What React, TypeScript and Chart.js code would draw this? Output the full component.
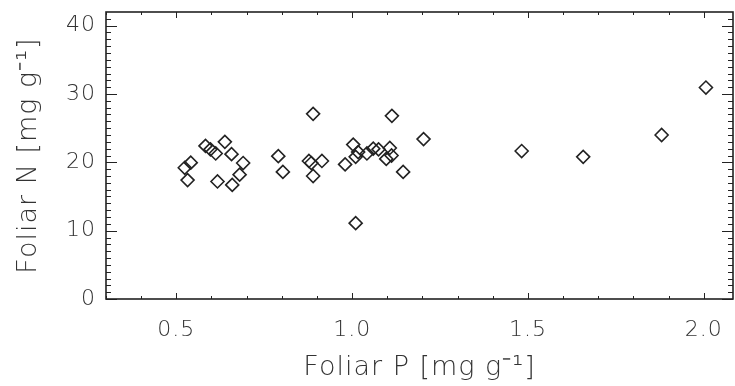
import React, { useEffect, useRef } from "react";
import { Chart, registerables } from "chart.js";

Chart.register(...registerables);

// Foliar P [mg g-1]
const foliarP = [
  0.524, 0.532, 0.541, 0.583, 0.597, 0.612, 0.617, 0.638, 0.657, 0.659, 0.68, 0.69,
  0.79, 0.803,
  0.877, 0.884, 0.889, 0.889, 0.914,
  0.98, 1.003, 1.01, 1.017, 1.042, 1.06, 1.075, 1.097, 1.107, 1.112, 1.113, 1.01, 1.145,
  1.203, 1.482, 1.657, 1.88, 2.006,
];
// Foliar N [mg g-1]
const foliarN = [
  19.2, 17.4, 19.95, 22.4, 21.9, 21.3, 17.2, 23.0, 21.2, 16.7, 18.2, 19.9,
  20.9, 18.6,
  20.2, 19.9, 27.1, 18.0, 20.2,
  19.7, 22.6, 20.8, 21.5, 21.3, 22.0, 21.9, 20.5, 22.1, 21.0, 26.8, 11.1, 18.6,
  23.4, 21.65, 20.8, 24.0, 30.95,
];

const xTicks = [0.5, 1.0, 1.5, 2.0];
const yTicks = [0, 10, 20, 30, 40];
const xRange = [0.3, 2.083];
const yRange = [0, 42];

const INK = "#222";
const TEXT = "#333";
const FONT = "'DejaVu Sans', sans-serif";

const zeroPad = () => ({ left: 0, top: 0, right: 0, bottom: 0 });

// pin the plot frame's right edge
const fixArea = {
  id: "fixArea",
  afterLayout(chart: any) {
    const a = chart.chartArea;
    const R = chart.width - 2;
    const x = chart.scales.x;
    a.right = R;
    a.width = R - a.left;
    x.right = R;
    x.width = R - x.left;
    x.configure();
    x._labelItems = null;
  },
};

const spacing = {
  id: "spacing",
  beforeDraw(chart: any) {
    chart.ctx.letterSpacing = "1px";
  },
  afterDraw(chart: any) {
    chart.ctx.letterSpacing = "0px";
  },
};

const frameTicks = {
  id: "frameTicks",
  afterDraw(chart: any) {
    const { ctx, chartArea: a, scales } = chart;
    const x = scales.x;
    const y = scales.y;
    ctx.save();
    ctx.strokeStyle = INK;
    ctx.lineWidth = 1;
    ctx.beginPath();
    for (let i = 3; i <= 20; i++) {
      const px = Math.round(x.getPixelForValue(i / 10)) + 0.5;
      const len = i % 5 === 0 ? 6 : 3;
      ctx.moveTo(px, a.bottom);
      ctx.lineTo(px, a.bottom - len);
      ctx.moveTo(px, a.top);
      ctx.lineTo(px, a.top + len);
    }
    for (let i = 0; i <= 41; i++) {
      const py = Math.round(y.getPixelForValue(i)) + 0.5;
      const len = i % 10 === 0 ? 11 : 5;
      ctx.moveTo(a.left, py);
      ctx.lineTo(a.left + len, py);
      ctx.moveTo(a.right, py);
      ctx.lineTo(a.right - len, py);
    }
    ctx.stroke();
    ctx.lineWidth = 1.6;
    ctx.strokeRect(a.left, a.top, a.right - a.left, a.bottom - a.top);
    ctx.restore();
  },
};

export default function App() {
  const ref = useRef<HTMLCanvasElement | null>(null);

  useEffect(() => {
    if (!ref.current) return;
    const points = foliarP.map((p, i) => ({ x: p, y: foliarN[i] }));
    const tickFont = { family: FONT, size: 22, weight: "200" as any };
    const titleFont = { family: FONT, size: 27, weight: "200" as any };
    const chart = new Chart(ref.current, {
      type: "scatter",
      data: {
        datasets: [
          {
            data: points,
            pointStyle: "rectRot",
            pointRadius: 6.5,
            pointBorderWidth: 1.6,
            borderColor: INK,
            backgroundColor: "rgba(0,0,0,0)",
            pointBackgroundColor: "rgba(0,0,0,0)",
            pointBorderColor: INK,
          },
        ],
      },
      options: {
        animation: false,
        responsive: true,
        maintainAspectRatio: false,
        layout: { padding: { left: 0, top: 12, right: 2, bottom: 0 } },
        plugins: { legend: { display: false }, tooltip: { enabled: false } },
        scales: {
          x: {
            type: "linear",
            min: xRange[0],
            max: xRange[1],
            afterBuildTicks: (s: any) => {
              s.ticks = xTicks.map((v) => ({ value: v }));
            },
            afterFit: (s: any) => {
              s.height = 87;
              s.paddingLeft = 0;
              s.paddingRight = 0;
              s.paddingTop = 0;
              s.paddingBottom = 0;
              s.getPadding = zeroPad;
            },
            grid: { display: false, drawTicks: false },
            border: { display: false },
            ticks: {
              color: TEXT,
              font: tickFont,
              padding: 18,
              maxRotation: 0,
              callback: (v: any) => Number(v).toFixed(1),
            },
            title: {
              display: true,
              text: "Foliar P [mg g⁻¹]",
              color: TEXT,
              font: titleFont,
              padding: { top: 0, bottom: 2 },
            },
          },
          y: {
            type: "linear",
            min: yRange[0],
            max: yRange[1],
            afterBuildTicks: (s: any) => {
              s.ticks = yTicks.map((v) => ({ value: v }));
            },
            afterFit: (s: any) => {
              s.width = 106;
              s.paddingLeft = 0;
              s.paddingRight = 0;
              s.paddingTop = 0;
              s.paddingBottom = 0;
              s.getPadding = zeroPad;
            },
            grid: { display: false, drawTicks: false },
            border: { display: false },
            ticks: {
              color: TEXT,
              font: tickFont,
              padding: 10,
              callback: (v: any) => String(Math.round(Number(v))),
            },
            title: {
              display: true,
              text: "Foliar N [mg g⁻¹]",
              color: TEXT,
              font: titleFont,
              padding: { top: 13, bottom: 0 },
            },
          },
        },
      },
      plugins: [fixArea, spacing, frameTicks],
    });
    return () => chart.destroy();
  }, []);

  return (
    <div style={{ position: "fixed", left: 0, top: 0, width: 735, height: 386, background: "#fff" }}>
      <canvas ref={ref} />
    </div>
  );
}
